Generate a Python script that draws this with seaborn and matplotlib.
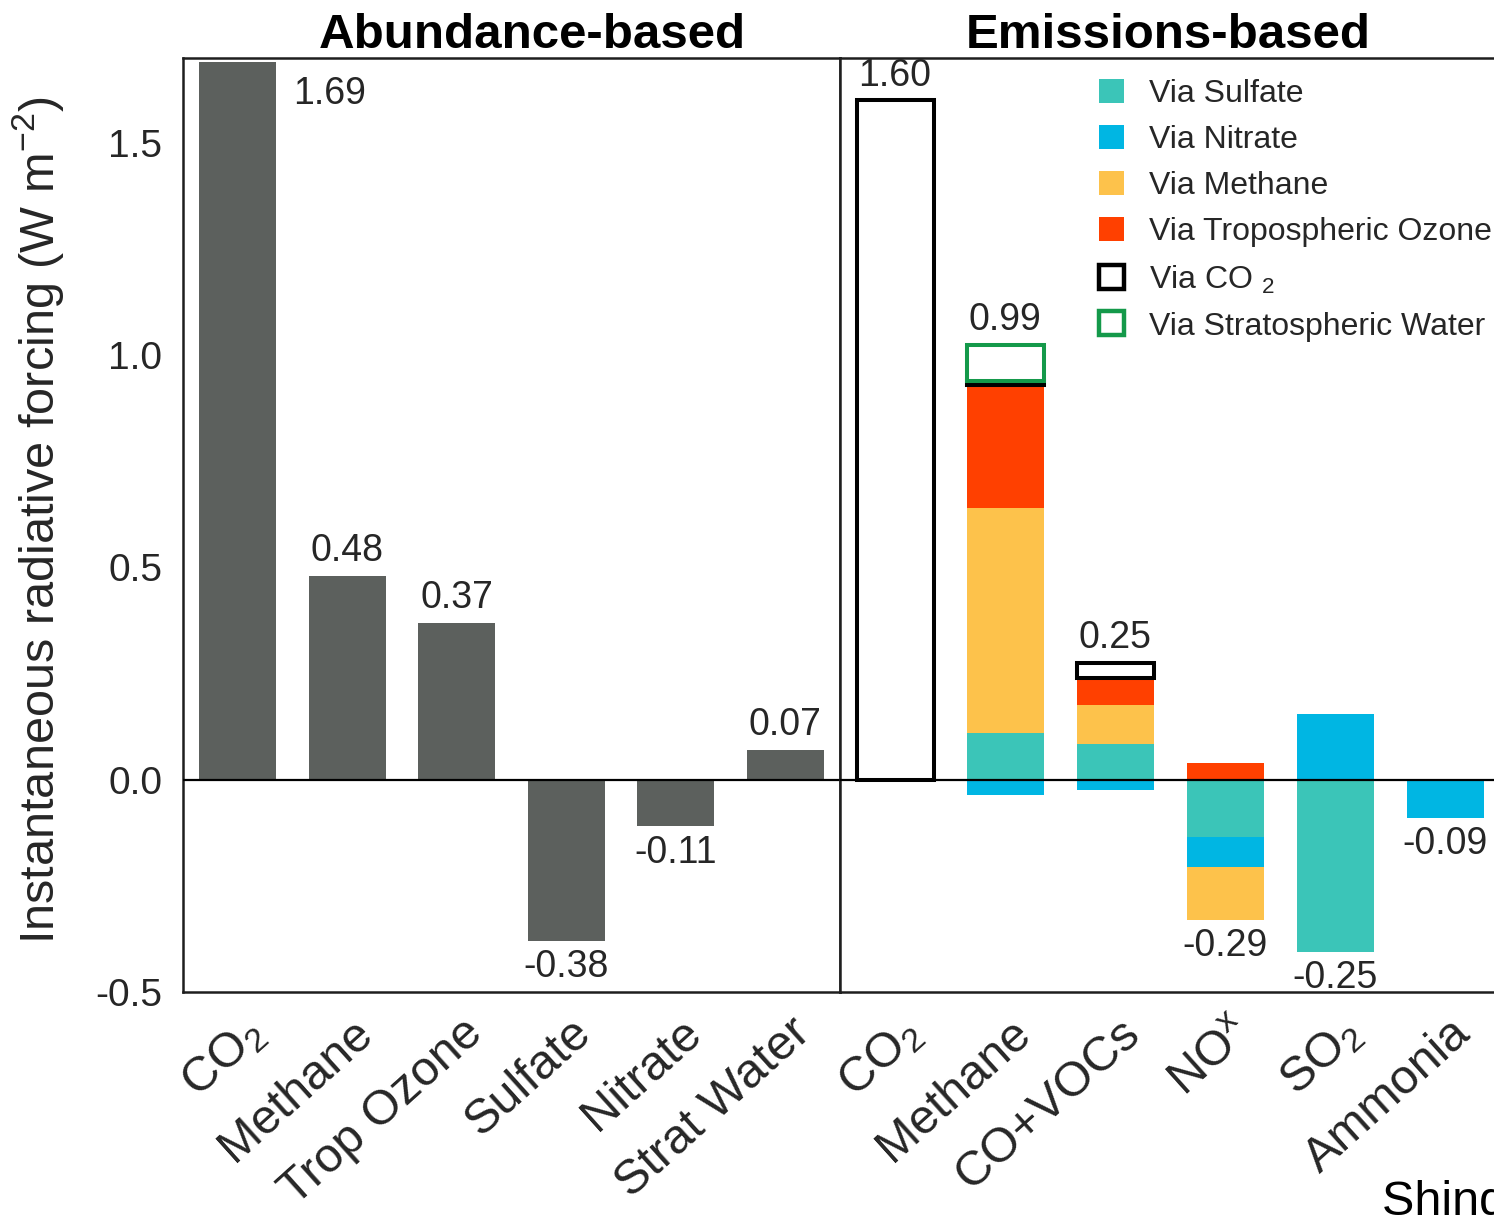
import numpy as np
import pandas as pd
import matplotlib
matplotlib.use("Agg")
import matplotlib.pyplot as plt
from matplotlib.patches import Patch
from matplotlib.transforms import ScaledTranslation
import seaborn as sns

# ---------------------------------------------------------------------------
# Abundance-based instantaneous radiative forcing (W m-2)
abund_species = ["CO$_2$", "Methane", "Trop Ozone", "Sulfate", "Nitrate", "Strat Water"]
abund_values = [1.69, 0.48, 0.37, -0.38, -0.11, 0.07]

# Emissions-based forcing, split by the pathway through which it acts
emis_species = ["CO$_2$", "Methane", "CO+VOCs", "NO$^{\\mathrm{x}}$", "SO$_2$", "Ammonia"]
via_sulfate = [0.0, 0.11, 0.085, -0.135, -0.405, 0.0]
via_nitrate = [0.0, -0.035, -0.025, -0.07, 0.155, -0.09]
via_methane = [0.0, 0.53, 0.09, -0.125, 0.0, 0.0]
via_ozone = [0.0, 0.29, 0.065, 0.04, 0.0, 0.0]
via_co2 = [1.60, 0.01, 0.035, 0.0, 0.0, 0.0]
via_stratwater = [0.0, 0.085, 0.0, 0.0, 0.0, 0.0]
emis_net = [1.60, 0.99, 0.25, -0.29, -0.25, -0.09]

legend_labels = ["Via Sulfate", "Via Nitrate", "Via Methane",
                 "Via Tropospheric Ozone", "Via CO $_2$", "Via Stratospheric Water"]
# ---------------------------------------------------------------------------

GREY = "#5c605d"
C_SULF = "#3bc5b8"
C_NITR = "#00b6e3"
C_METH = "#fdc24b"
C_OZON = "#ff4000"
C_GREEN = "#14994a"
TXT = "#262626"

sns.set_theme(style="white")
plt.rcParams["font.family"] = ["Liberation Sans", "DejaVu Sans"]
plt.rcParams["mathtext.fontset"] = "custom"
plt.rcParams["mathtext.rm"] = "Liberation Sans"
plt.rcParams["mathtext.it"] = "Liberation Sans:italic"
plt.rcParams["mathtext.bf"] = "Liberation Sans:bold"

W, H = 1494, 1219
fig = plt.figure(figsize=(W / 100, H / 100), dpi=100)
ax1 = fig.add_axes([183 / W, 227 / H, 657 / W, 934 / H])
ax2 = fig.add_axes([840 / W, 227 / H, 660 / W, 934 / H])

YLIM = (-0.5, 1.70)
BAR_W = 0.7
VAL_FS = 27

# ---- left panel: abundance-based --------------------------------------------
sns.barplot(x=abund_species, y=abund_values, order=abund_species, color=GREY,
            saturation=1, width=BAR_W, linewidth=0, errorbar=None, ax=ax1)

for i, v in enumerate(abund_values):
    if i == 0:
        ax1.text(i + BAR_W / 2 + 0.16, v - 0.075, f"{v:.2f}", ha="left",
                 va="center", fontsize=VAL_FS, color=TXT)
    elif v >= 0:
        ax1.annotate(f"{v:.2f}", (i, v), xytext=(0, 5), textcoords="offset points",
                     ha="center", va="bottom", fontsize=VAL_FS, color=TXT)
    else:
        ax1.annotate(f"{v:.2f}", (i, v), xytext=(0, -6), textcoords="offset points",
                     ha="center", va="top", fontsize=VAL_FS, color=TXT)

# ---- right panel: emissions-based stacked bars --------------------------------
components = [
    (via_sulfate, dict(color=C_SULF, linewidth=0)),
    (via_nitrate, dict(color=C_NITR, linewidth=0)),
    (via_methane, dict(color=C_METH, linewidth=0)),
    (via_ozone, dict(color=C_OZON, linewidth=0)),
    (via_co2, dict(color="white", edgecolor="black", linewidth=2.9)),
    (via_stratwater, dict(color="white", edgecolor=C_GREEN, linewidth=2.9)),
]

pos_base = np.zeros(len(emis_species))
neg_base = np.zeros(len(emis_species))
for vals, style in components:
    vals = np.asarray(vals, dtype=float)
    bottoms = np.where(vals >= 0, pos_base, neg_base)
    seg = pd.DataFrame({"species": emis_species, "value": vals, "bottom": bottoms})
    seg = seg[seg["value"] != 0]
    if len(seg):
        sns.barplot(data=seg, x="species", y="value", order=emis_species,
                    bottom=seg["bottom"].to_numpy(), saturation=1, width=BAR_W,
                    errorbar=None, ax=ax2, **style)
    pos_base += np.clip(vals, 0, None)
    neg_base += np.clip(vals, None, 0)

for i, net in enumerate(emis_net):
    if net >= 0:
        ax2.annotate(f"{net:.2f}", (i, pos_base[i]), xytext=(0, 5),
                     textcoords="offset points", ha="center", va="bottom",
                     fontsize=VAL_FS, color=TXT)
    else:
        ax2.annotate(f"{net:.2f}", (i, neg_base[i]), xytext=(0, -6),
                     textcoords="offset points", ha="center", va="top",
                     fontsize=VAL_FS, color=TXT)

handles = [
    Patch(facecolor=C_SULF, edgecolor="none"),
    Patch(facecolor=C_NITR, edgecolor="none"),
    Patch(facecolor=C_METH, edgecolor="none"),
    Patch(facecolor=C_OZON, edgecolor="none"),
    Patch(facecolor="white", edgecolor="black", linewidth=3.2),
    Patch(facecolor="white", edgecolor=C_GREEN, linewidth=3.2),
]
leg = ax2.legend(handles, legend_labels, loc="upper left",
                 bbox_to_anchor=(1099 / W, 1 - 79 / H), bbox_transform=fig.transFigure,
                 frameon=False, fontsize=23, handlelength=0.78, handleheight=0.78,
                 handletextpad=0.8, labelspacing=0.5, borderpad=0, borderaxespad=0)
for t in leg.get_texts():
    t.set_color(TXT)

# ---- shared styling ------------------------------------------------------------
offset = ScaledTranslation(3 / 72, 0, fig.dpi_scale_trans)
for ax, title, title_x in [(ax1, "Abundance-based", 0.531), (ax2, "Emissions-based", 0.497)]:
    ax.set_ylim(*YLIM)
    ax.set_xlim(-0.5, 5.5)
    ax.axhline(0, color="black", lw=1.6, zorder=5)
    ax.set_xlabel("")
    ax.set_ylabel("")
    ax.set_title(title, fontsize=35.5, fontweight="bold", color="black", x=title_x, pad=7)
    for s in ax.spines.values():
        s.set_visible(True)
        s.set_color("#1e1e1e")
        s.set_linewidth(1.8)
    ax.tick_params(axis="x", length=0, pad=13, labelsize=35, labelcolor=TXT)
    ax.tick_params(axis="y", length=0, pad=15, labelsize=28, labelcolor=TXT)
    for lab in ax.get_xticklabels():
        lab.set_rotation(42)
        lab.set_ha("right")
        lab.set_va("top")
        lab.set_rotation_mode("anchor")
        lab.set_transform(lab.get_transform() + offset)

ax1.set_yticks([-0.5, 0.0, 0.5, 1.0, 1.5])
ax1.set_yticklabels([f"{t:.1f}" for t in [-0.5, 0.0, 0.5, 1.0, 1.5]])
ax2.set_yticks([])

ax1.set_ylabel("Instantaneous radiative forcing (W m$^{-2}$)", fontsize=35, color=TXT)
ax1.yaxis.set_label_coords(-0.178, 0.505)

fig.text(1382 / W, 1 - 1180 / H, "Shindell et al. (2009)", ha="left", va="top",
         fontsize=35, color="black")

fig.savefig("out.png", dpi=100)
